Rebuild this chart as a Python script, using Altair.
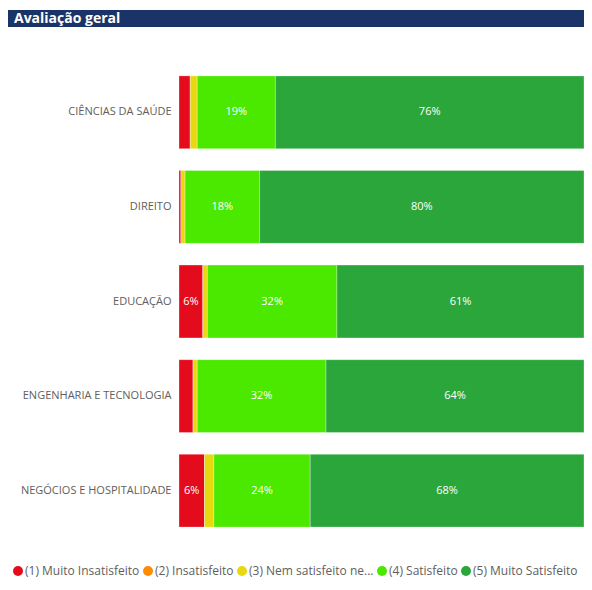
import altair as alt
import pandas as pd

areas = ["CIÊNCIAS DA SAÚDE", "DIREITO", "EDUCAÇÃO", "ENGENHARIA E TECNOLOGIA", "NEGÓCIOS E HOSPITALIDADE"]
levels = ["(1) Muito Insatisfeito", "(2) Insatisfeito", "(3) Nem satisfeito nem insatisfeito",
          "(4) Satisfeito", "(5) Muito Satisfeito"]
colors = ["#E30B1C", "#FF8C00", "#E8D80F", "#4BE800", "#2BA63B"]

muito_insat = [2.8, 0.5, 5.9, 3.5, 6.3]
insat = [0.0, 0.0, 0.0, 0.0, 0.0]
neutro = [1.7, 1.0, 1.1, 1.0, 2.3]
satisf = [19.3, 18.4, 32.0, 31.8, 23.8]
muito_satisf = [76.2, 80.1, 61.0, 63.7, 67.6]

series = [muito_insat, insat, neutro, satisf, muito_satisf]
rows = []
for li, (lvl, vals) in enumerate(zip(levels, series)):
    for a, v in zip(areas, vals):
        rows.append({"area": a, "nivel": lvl, "ordem": li, "valor": v})
df = pd.DataFrame(rows)

FONT = "Open Sans"

base = alt.Chart(df).transform_stack(
    stack="valor", groupby=["area"], as_=["x0", "x1"], sort=[alt.SortField("ordem", order="ascending")]
)

y_enc = alt.Y("area:N", sort=areas, title=None,
              scale=alt.Scale(paddingInner=0.23, paddingOuter=0.115),
              axis=alt.Axis(domain=False, ticks=False, labelColor="#605E5C", labelFontSize=11,
                            labelFont=FONT, labelPadding=8, labelLimit=200))

bars = base.mark_bar(stroke="white", strokeWidth=0.6, strokeOpacity=0.5).encode(
    x=alt.X("x0:Q", scale=alt.Scale(domain=[0, 100], nice=False, zero=True), axis=None),
    x2="x1:Q",
    y=y_enc,
    color=alt.Color("nivel:N", scale=alt.Scale(domain=levels, range=colors),
                    legend=alt.Legend(title=None, orient="none", direction="horizontal",
                                      legendX=-167, legendY=500, symbolType="circle", symbolSize=100,
                                      symbolStrokeWidth=0, labelFontSize=12, labelFont=FONT,
                                      labelColor="#605E5C", columnPadding=2, symbolOffset=0,
                                      labelOffset=1, gridAlign="none", padding=0,
                                      labelExpr="length(datum.label) > 25 ? slice(datum.label, 0, 21) + '...' : datum.label")),
    order=alt.Order("ordem:Q"),
)

labels = base.transform_filter("datum.valor >= 5").transform_calculate(
    mid="(datum.x0 + datum.x1) / 2",
    txt="format(datum.valor, '.0f') + '%'"
).mark_text(color="white", fontSize=11, font=FONT).encode(
    x=alt.X("mid:Q", scale=alt.Scale(domain=[0, 100], nice=False, zero=True), axis=None),
    y=alt.Y("area:N", sort=areas),
    text="txt:N",
)

title_bar = alt.Chart(pd.DataFrame({"t": ["Avaliação geral"]})).mark_rect(color="#1B3468").encode(
    x=alt.value(-171), x2=alt.value(405), y=alt.value(-55), y2=alt.value(-38)
)
title_text = alt.Chart(pd.DataFrame({"t": ["Avaliação geral"]})).mark_text(
    color="white", fontSize=14, fontWeight="bold", font=FONT, align="left", baseline="middle"
).encode(x=alt.value(-165), y=alt.value(-46.5), text="t:N")

chart = alt.layer(bars, labels, title_bar, title_text).properties(
    width=405, height=473,
    autosize=alt.AutoSizeParams(type="none"),
    padding={"left": 171, "top": 57, "right": 0, "bottom": 40},
    background="white",
).configure_view(stroke=None)

chart.save("out.html", embed_options={"renderer": "svg", "actions": False})
